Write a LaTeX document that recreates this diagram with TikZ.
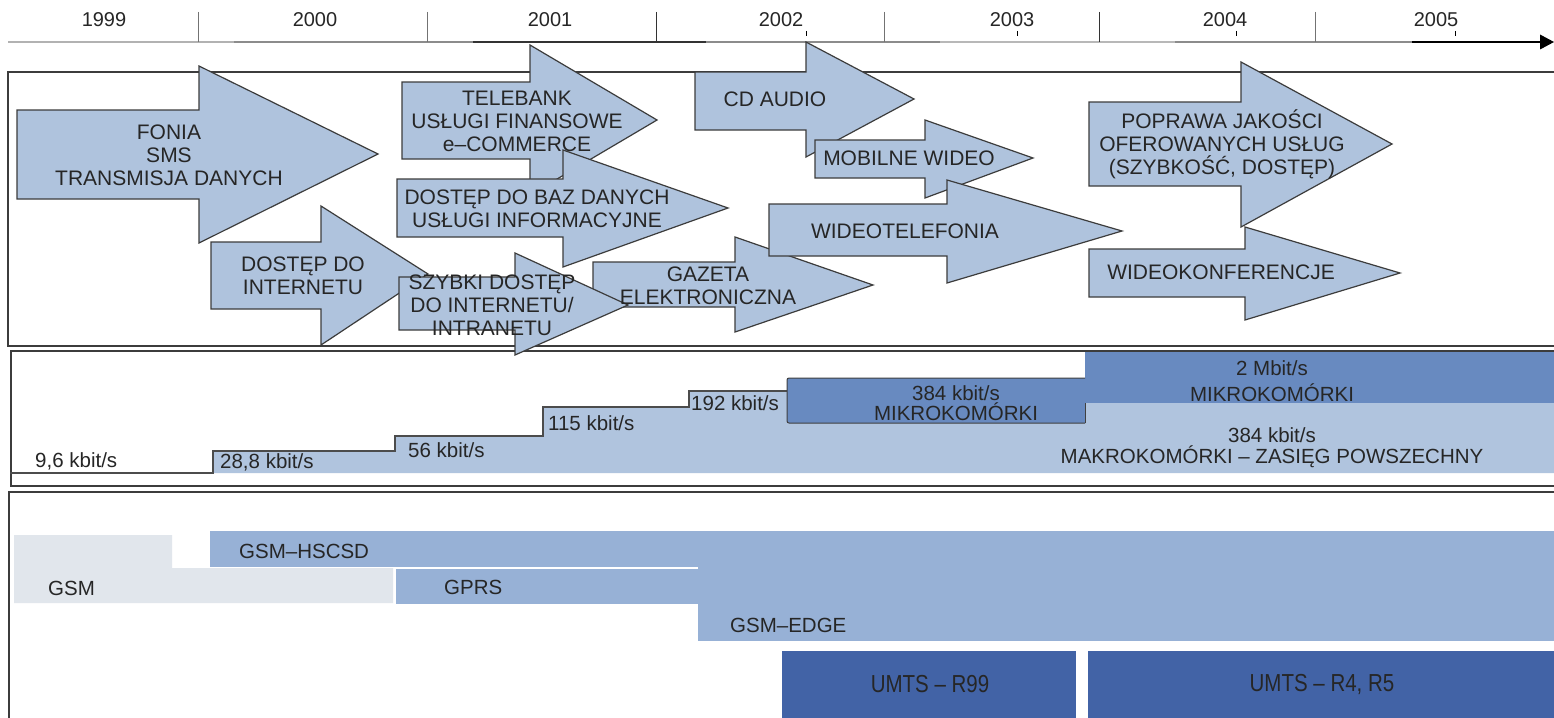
\documentclass[tikz,border=0pt]{standalone}
\usepackage{fontspec}
\setmainfont{Liberation Sans}
\definecolor{arrowfill}{RGB}{175,195,221}
\definecolor{stairfill}{RGB}{176,196,222}
\definecolor{midblue}{RGB}{104,138,192}
\definecolor{edgeblue}{RGB}{151,177,214}
\definecolor{gsmgray}{RGB}{225,230,236}
\definecolor{umtsblue}{RGB}{66,99,166}
\definecolor{ink}{RGB}{38,38,38}
\definecolor{frame}{RGB}{60,60,60}

% block arrow: left x, shaft top, shaft bottom, head base x, head top, head bottom, tip x, tip y
\newcommand\blockarr[8]{%
  \draw[blockarrow] (#1,#2) -- (#4,#2) -- (#4,#5) -- (#7,#8) -- (#4,#6) -- (#4,#3) -- (#1,#3) -- cycle;}

\begin{document}
\begin{tikzpicture}[x=1pt,y=-1pt,
  panel/.style={draw=frame,line width=1.6pt},
  blockarrow/.style={draw=frame,fill=arrowfill,line width=1.2pt,line join=miter},
  arrowtext/.style={text=ink,align=center,inner sep=0pt,font=\fontsize{21}{23}\selectfont},
  smalltext/.style={text=ink,inner sep=0pt,font=\fontsize{20.5}{21}\selectfont},
  yeartext/.style={text=ink,inner sep=0pt,font=\fontsize{20}{22}\selectfont},
  tick/.style={draw=black!55,line width=1pt},
]
\clip (0,0) rectangle (1554,717);
\fill[white] (0,0) rectangle (1554,717);

% ---------- time axis ----------
\begin{scope}[line width=2pt]
  \draw[black!30] (8,42) -- (234,42);
  \draw[black!45] (234,42) -- (473,42);
  \draw[black!80] (473,42) -- (706,42);
  \draw[black!45] (706,42) -- (940,42);
  \draw[black!28] (940,42) -- (1175,42);
  \draw[black!45] (1175,42) -- (1412,42);
  \draw[black] (1412,42) -- (1542,42);
\end{scope}
\fill[black] (1540,34.5) -- (1554,42) -- (1540,49.5) -- cycle;
\foreach \t in {198,427,884,1315} \draw[tick] (\t,12) -- (\t,42);
\foreach \t in {656,1099} \draw[tick,draw=black!80] (\t,12) -- (\t,42);
\foreach \t in {806,1017,1236,1455} \draw[black,line width=0.8pt] (\t,31) -- (\t,36);
\node[yeartext] (y1999) at (104,20) {1999};
\node[yeartext] (y2000) at (315,20) {2000};
\node[yeartext] (y2001) at (550,20) {2001};
\node[yeartext] (y2002) at (781,20) {2002};
\node[yeartext] (y2003) at (1012,20) {2003};
\node[yeartext] (y2004) at (1225,20) {2004};
\node[yeartext] (y2005) at (1436,20) {2005};

% ---------- panels ----------
\draw[panel] (8,72) rectangle (1570,346);
\draw[panel] (11,351) rectangle (1570,486);
\draw[panel] (9,492) rectangle (1570,740);

% ---------- services ----------
\blockarr{17}{110}{199}{199}{66}{243}{378}{154}
\blockarr{211}{242}{309}{321}{206}{345}{428}{274}
\blockarr{402}{82}{159}{530}{45}{195}{657}{120}
\blockarr{397}{179}{237}{563}{150}{267}{728}{208}
\blockarr{593}{262}{307}{735}{237}{332}{873}{285}
\blockarr{399}{277}{330}{515}{253}{355}{628}{305}
\blockarr{695}{72}{130}{806}{42}{157}{914}{99}
\blockarr{815}{140}{178}{925}{120}{198}{1033}{158}
\blockarr{769}{204}{256}{947}{180}{283}{1122}{231}
\blockarr{1089}{102}{186}{1241}{62}{227}{1392}{144}
\blockarr{1089}{249}{297}{1245}{227}{320}{1400}{273}

\node[arrowtext] (fonia) at (169,155) {FONIA\\SMS\\TRANSMISJA DANYCH};
\node[arrowtext] (internet) at (303,276) {DOSTĘP DO\\INTERNETU};
\node[arrowtext] (telebank) at (517,121) {TELEBANK\\USŁUGI FINANSOWE\\e–COMMERCE};
\node[arrowtext] (bazy) at (537,209) {DOSTĘP DO BAZ DANYCH\\USŁUGI INFORMACYJNE};
\node[arrowtext] (szybki) at (492,305) {SZYBKI DOSTĘP\\DO INTERNETU/\\INTRANETU};
\node[arrowtext] (gazeta) at (708,286) {GAZETA\\ELEKTRONICZNA};
\node[arrowtext] (cdaudio) at (775,99) {CD AUDIO};
\node[arrowtext] (mobilne) at (909,158) {MOBILNE WIDEO};
\node[arrowtext] (wideotel) at (905,231) {WIDEOTELEFONIA};
\node[arrowtext] (poprawa) at (1222,144) {POPRAWA JAKOŚCI\\OFEROWANYCH USŁUG\\(SZYBKOŚĆ, DOSTĘP)};
\node[arrowtext] (wideokonf) at (1221,272) {WIDEOKONFERENCJE};

% ---------- transfer rates ----------
\fill[stairfill] (213,473) -- (213,451) -- (395,451) -- (395,436) -- (543,436) -- (543,407)
  -- (689,407) -- (689,391) -- (1560,391) -- (1560,473) -- cycle;
\draw[black!70,line width=1.3pt] (10,473) -- (213,473) -- (213,451) -- (395,451) -- (395,436)
  -- (543,436) -- (543,407) -- (689,407) -- (689,391) -- (787,391);
\fill[midblue] (1085,352) rectangle (1560,403);
\draw[fill=midblue,draw=black!75,line width=1pt,rounded corners=2pt] (1085,378) -- (787,378) -- (787,423) -- (1085,423);
\draw[black!75,line width=1pt] (1085,403) -- (1085,423);

\node[smalltext] (r96) at (35,461) [anchor=west] {9,6 kbit/s};
\node[smalltext] (r288) at (220,462) [anchor=west] {28,8 kbit/s};
\node[smalltext] (r56) at (408,450) [anchor=west] {56 kbit/s};
\node[smalltext] (r115) at (548,423) [anchor=west] {115 kbit/s};
\node[smalltext] (r192) at (691,403) [anchor=west] {192 kbit/s};
\node[smalltext,align=center,font=\fontsize{20.5}{20}\selectfont] (mikro1) at (956,403) {384 kbit/s\\MIKROKOMÓRKI};
\node[smalltext,align=center,font=\fontsize{20.5}{26}\selectfont] (mikro2) at (1272,381) {2 Mbit/s\\MIKROKOMÓRKI};
\node[smalltext,align=center,font=\fontsize{20.5}{21}\selectfont] (makro) at (1272,448) {384 kbit/s\\MAKROKOMÓRKI – ZASIĘG POWSZECHNY};

% ---------- network technologies ----------
\fill[gsmgray] (14,535) -- (172,535) -- (172,568) -- (393,568) -- (393,603) -- (14,603) -- cycle;
\fill[edgeblue] (210,531) rectangle (698,567);
\fill[edgeblue] (396,569) rectangle (698,604);
\fill[edgeblue] (698,531) rectangle (1560,641);
\fill[umtsblue] (782,651) rectangle (1076,730);
\fill[umtsblue] (1088,651) rectangle (1560,730);

\node[smalltext,anchor=west] (gsm) at (48,588) {GSM};
\node[smalltext,anchor=west] (hscsd) at (239,551) {GSM–HSCSD};
\node[smalltext,anchor=west] (gprs) at (444,587) {GPRS};
\node[smalltext,anchor=west] (edge) at (730,625) {GSM–EDGE};
\node[smalltext] (r99) at (930,684) {\scalebox{1}[1.2]{UMTS – R99}};
\node[smalltext] (r45) at (1322,684) {\scalebox{1}[1.2]{UMTS – R4, R5}};
\end{tikzpicture}
\end{document}
